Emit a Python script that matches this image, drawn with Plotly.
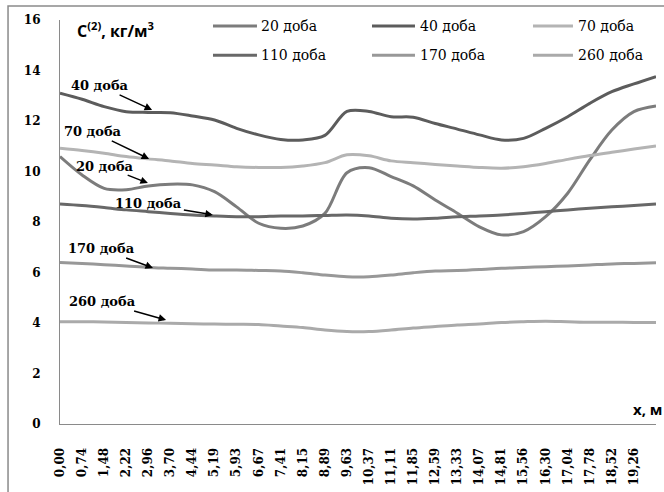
import plotly.graph_objects as go

# ---- data -----------------------------------------------------------
x_values = [i * 20 / 27 for i in range(28)]
tick_labels = ["0,00", "0,74", "1,48", "2,22", "2,96", "3,70", "4,44", "5,19",
               "5,93", "6,67", "7,41", "8,15", "8,89", "9,63", "10,37", "11,11",
               "11,85", "12,59", "13,33", "14,07", "14,81", "15,56", "16,30",
               "17,04", "17,78", "18,52", "19,26"]

day20 = [10.59, 9.86, 9.33, 9.28, 9.43, 9.5, 9.47, 9.2, 8.6, 7.95, 7.75, 7.84,
         8.34, 9.95, 10.15, 9.8, 9.43, 8.87, 8.35, 7.81, 7.49, 7.62, 8.21, 9.14,
         10.46, 11.64, 12.37, 12.59]
day40 = [13.1, 12.86, 12.57, 12.37, 12.34, 12.33, 12.2, 12.04, 11.71, 11.45,
         11.27, 11.25, 11.43, 12.38, 12.38, 12.17, 12.15, 11.9, 11.68, 11.45,
         11.25, 11.31, 11.71, 12.17, 12.7, 13.16, 13.47, 13.76]
day70 = [10.92, 10.83, 10.72, 10.59, 10.5, 10.42, 10.32, 10.26, 10.19, 10.16,
         10.16, 10.22, 10.35, 10.66, 10.62, 10.42, 10.35, 10.28, 10.22, 10.16,
         10.13, 10.19, 10.32, 10.48, 10.63, 10.76, 10.89, 11.01]
day110 = [8.71, 8.65, 8.57, 8.48, 8.41, 8.34, 8.28, 8.24, 8.21, 8.21, 8.24, 8.24,
          8.26, 8.28, 8.24, 8.15, 8.12, 8.15, 8.21, 8.24, 8.28, 8.34, 8.41, 8.48,
          8.54, 8.6, 8.65, 8.71]
day170 = [6.4, 6.36, 6.31, 6.26, 6.2, 6.17, 6.14, 6.1, 6.1, 6.08, 6.06, 5.99,
          5.9, 5.83, 5.83, 5.9, 5.99, 6.06, 6.08, 6.12, 6.17, 6.2, 6.23, 6.26,
          6.3, 6.34, 6.36, 6.39]
day260 = [4.05, 4.05, 4.04, 4.02, 4.0, 3.99, 3.97, 3.96, 3.95, 3.94, 3.88, 3.82,
          3.72, 3.66, 3.66, 3.72, 3.8, 3.86, 3.92, 3.96, 4.02, 4.05, 4.07, 4.05,
          4.03, 4.03, 4.02, 4.02]

series_names = ["20 доба", "40 доба", "70 доба", "110 доба", "170 доба", "260 доба"]
series_values = [day20, day40, day70, day110, day170, day260]
series_colors = ["#7c7c7c", "#5c5c5c", "#b4b4b4", "#686868", "#989898", "#aaaaaa"]

# annotation: (name, x, y of arrow head, ax, ay)
callouts = [
    ("40 доба", 3.09, 12.44, -52, -24),
    ("70 доба", 2.99, 10.5, -56, -27),
    ("20 доба", 2.95, 9.54, -43, -17),
    ("110 доба", 5.13, 8.28, -64, -11),
    ("170 доба", 3.12, 6.18, -51, -19),
    ("260 доба", 3.56, 4.12, -64, -18),
]

SERIF = "DejaVu Serif"

fig = go.Figure()
for name, vals, col in zip(series_names, series_values, series_colors):
    fig.add_trace(go.Scatter(
        x=x_values, y=vals, name=name, mode="lines", showlegend=False,
        line=dict(color=col, width=3, shape="spline", smoothing=0.9),
    ))

for text, hx, hy, ax, ay in callouts:
    fig.add_annotation(
        x=hx, y=hy, ax=ax, ay=ay, text=f"<b>{text}</b>",
        showarrow=True, arrowhead=2, arrowsize=1, arrowwidth=1.5,
        arrowcolor="black", font=dict(family=SERIF, size=13, color="black"),
    )

# legend drawn as sample lines + labels (3 columns x 2 rows), paper coords
leg_cols = [(0.2567, 0.3305, 0.3339), (0.5235, 0.5956, 0.6007), (0.7936, 0.8607, 0.8658)]
leg_rows = [0.985, 0.913]
for k, (name, col) in enumerate(zip(series_names, series_colors)):
    x0, x1, xt = leg_cols[k % 3]
    yy = leg_rows[k // 3]
    fig.add_shape(type="line", xref="paper", yref="paper", x0=x0, x1=x1, y0=yy, y1=yy,
                  line=dict(color=col, width=3))
    fig.add_annotation(xref="paper", yref="paper", x=xt, y=yy, xanchor="left",
                       yanchor="middle", text=name, showarrow=False,
                       font=dict(family=SERIF, size=14, color="black"))

fig.add_annotation(
    xref="paper", yref="paper", x=0.025, y=0.975, xanchor="left", yanchor="middle",
    text="<b>C<sup>(2)</sup>, кг/м<sup>3</sup></b>", showarrow=False,
    font=dict(family="Open Sans", size=16, color="black"),
)
fig.add_annotation(
    xref="paper", yref="paper", x=1.015, y=0.037, xanchor="right", yanchor="middle",
    text="<b>х, м</b>", showarrow=False,
    font=dict(family="Open Sans", size=15, color="black"),
)

# outer chart frame
fig.add_shape(type="rect", xref="paper", yref="paper",
              x0=-0.0872, y0=-0.2, x1=1.03, y1=1.0347,
              line=dict(color="#8a8a8a", width=1.5), layer="below")

fig.update_layout(
    width=664, height=492,
    margin=dict(l=60, r=8, t=20, b=68),
    paper_bgcolor="white", plot_bgcolor="white",
    showlegend=False,
    xaxis=dict(
        range=[0, 20], tickmode="array", tickvals=x_values[:27], ticktext=tick_labels,
        tickangle=-90, showgrid=False, zeroline=False, showline=True,
        linecolor="#8a8a8a", linewidth=1.2, ticks="", ticklabelstandoff=18,
        tickfont=dict(family=SERIF, size=12, color="black", weight="bold"),
    ),
    yaxis=dict(
        range=[0, 16], tickvals=[0, 2, 4, 6, 8, 10, 12, 14, 16],
        showgrid=False, zeroline=False, showline=True, linecolor="#8a8a8a",
        linewidth=1.2, ticks="", ticklabelstandoff=16,
        tickfont=dict(family=SERIF, size=12, color="black", weight="bold"),
    ),
)

fig.write_html("out.html")
